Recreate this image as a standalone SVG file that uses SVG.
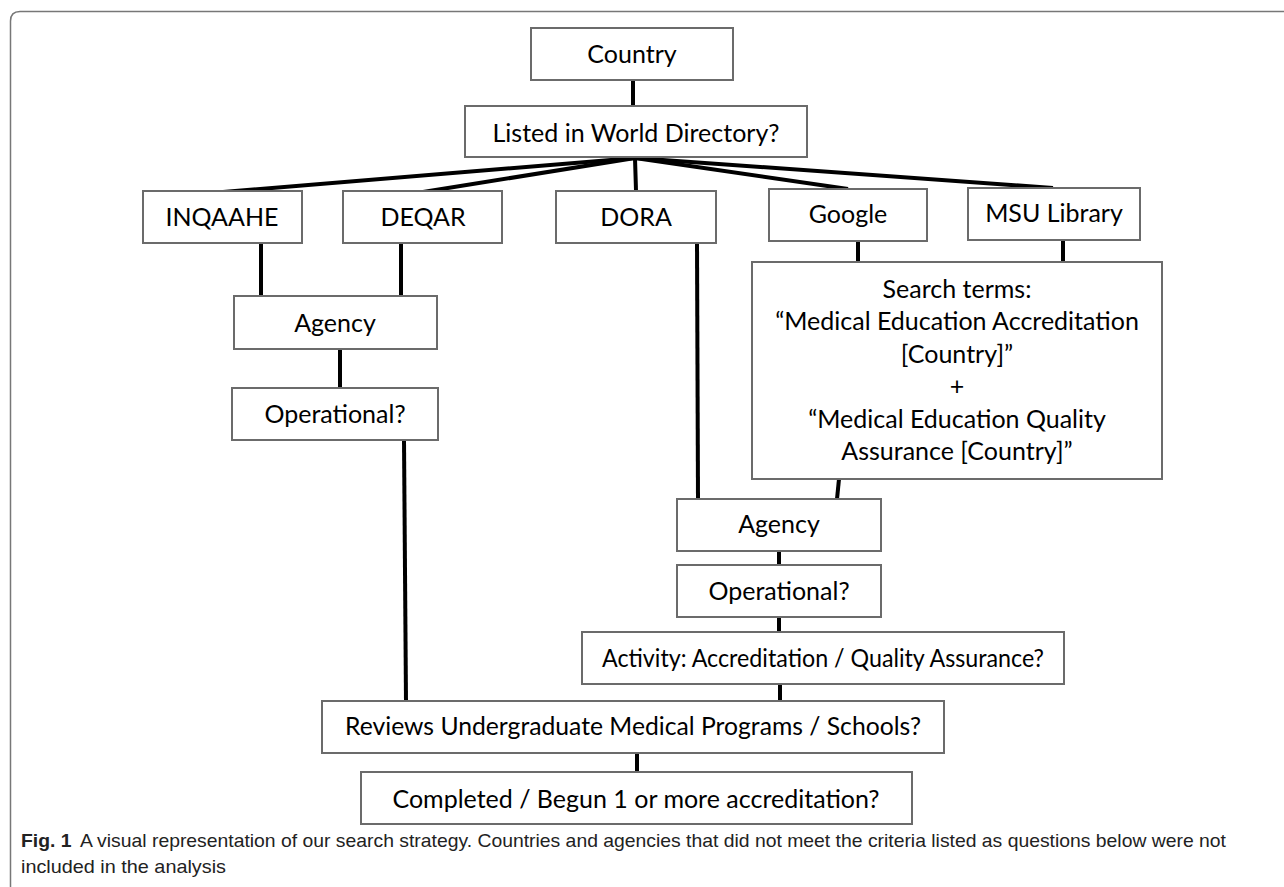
<svg xmlns="http://www.w3.org/2000/svg" width="1284" height="887" viewBox="0 0 1284 887">
<style>
.box{fill:#fff;stroke:#6b6b6b;stroke-width:2}
.lbl{font-family:Lato,"Open Sans",sans-serif;font-size:25px;fill:#000;text-anchor:middle}
.con{stroke:#000;stroke-width:4;fill:none;stroke-linecap:butt}
.cap{font-family:"Liberation Sans",Arial,sans-serif;font-size:18.5px;fill:#222}
</style>
<rect width="1284" height="887" fill="#fff"/>
<path d="M10.5 887 V21 Q10.5 11.5 20 11.5 H1284" fill="none" stroke="#777" stroke-width="1.5"/>
<g id="connectors">
<line class="con" x1="633" y1="80" x2="633" y2="107"/>
<line class="con" x1="635" y1="158" x2="223" y2="192"/>
<line class="con" x1="635" y1="158" x2="423" y2="192"/>
<line class="con" x1="635" y1="158" x2="636" y2="191"/>
<line class="con" x1="635" y1="158" x2="848" y2="189"/>
<line class="con" x1="635" y1="158" x2="1053" y2="188"/>
<line class="con" x1="261" y1="243" x2="261" y2="296"/>
<line class="con" x1="401" y1="243" x2="401" y2="296"/>
<line class="con" x1="340" y1="349" x2="340" y2="388"/>
<line class="con" x1="404" y1="440" x2="406" y2="701"/>
<line class="con" x1="697" y1="243" x2="698" y2="499"/>
<line class="con" x1="858" y1="241" x2="858" y2="262"/>
<line class="con" x1="1063" y1="240" x2="1063" y2="262"/>
<line class="con" x1="839" y1="479" x2="837" y2="499"/>
<line class="con" x1="779" y1="551" x2="779" y2="565"/>
<line class="con" x1="779" y1="617" x2="779" y2="632"/>
<line class="con" x1="780" y1="684" x2="780" y2="701"/>
<line class="con" x1="637" y1="753" x2="637" y2="772"/>
</g>
<g id="country"><rect class="box" x="531" y="28" width="202" height="52"/><text class="lbl" x="632" y="63">Country</text></g>
<g id="listed"><rect class="box" x="465" y="106" width="342" height="51"/><text class="lbl" x="636" y="142">Listed in World Directory?</text></g>
<g id="inqaahe"><rect class="box" x="143" y="191" width="159" height="52"/><text class="lbl" x="222" y="226">INQAAHE</text></g>
<g id="deqar"><rect class="box" x="343" y="191" width="159" height="52"/><text class="lbl" x="423" y="226">DEQAR</text></g>
<g id="dora"><rect class="box" x="556" y="191" width="160" height="52"/><text class="lbl" x="636" y="226">DORA</text></g>
<g id="google"><rect class="box" x="769" y="189" width="158" height="52"/><text class="lbl" x="848" y="223">Google</text></g>
<g id="msu"><rect class="box" x="968" y="188" width="172" height="52"/><text class="lbl" x="1054" y="222">MSU Library</text></g>
<g id="agency1"><rect class="box" x="234" y="296" width="203" height="53"/><text class="lbl" x="335" y="332">Agency</text></g>
<g id="operational1"><rect class="box" x="232" y="388" width="206" height="52"/><text class="lbl" x="335" y="423">Operational?</text></g>
<g id="search"><rect class="box" x="752" y="262" width="410" height="217"/>
<text class="lbl" x="957" y="298">Search terms:</text>
<text class="lbl" x="957" y="330">“Medical Education Accreditation</text>
<text class="lbl" x="957" y="363">[Country]”</text>
<text class="lbl" x="957" y="395">+</text>
<text class="lbl" x="957" y="428">“Medical Education Quality</text>
<text class="lbl" x="957" y="460">Assurance [Country]”</text>
</g>
<g id="agency2"><rect class="box" x="677" y="499" width="204" height="52"/><text class="lbl" x="779" y="533">Agency</text></g>
<g id="operational2"><rect class="box" x="677" y="565" width="204" height="52"/><text class="lbl" x="779" y="600">Operational?</text></g>
<g id="activity"><rect class="box" x="582" y="632" width="482" height="52"/><text class="lbl" x="823" y="667" textLength="442" lengthAdjust="spacingAndGlyphs">Activity: Accreditation / Quality Assurance?</text></g>
<g id="reviews"><rect class="box" x="322" y="701" width="622" height="52"/><text class="lbl" x="633" y="735" textLength="576" lengthAdjust="spacingAndGlyphs">Reviews Undergraduate Medical Programs / Schools?</text></g>
<g id="completed"><rect class="box" x="361" y="772" width="551" height="52"/><text class="lbl" x="636" y="808">Completed / Begun 1 or more accreditation?</text></g>
<g id="caption">
<text class="cap" x="21" y="847" textLength="1205" lengthAdjust="spacingAndGlyphs"><tspan font-weight="bold">Fig. 1</tspan><tspan dx="8">A visual representation of our search strategy. Countries and agencies that did not meet the criteria listed as questions below were not</tspan></text>
<text class="cap" x="21" y="873" textLength="205" lengthAdjust="spacingAndGlyphs">included in the analysis</text>
</g>
</svg>
